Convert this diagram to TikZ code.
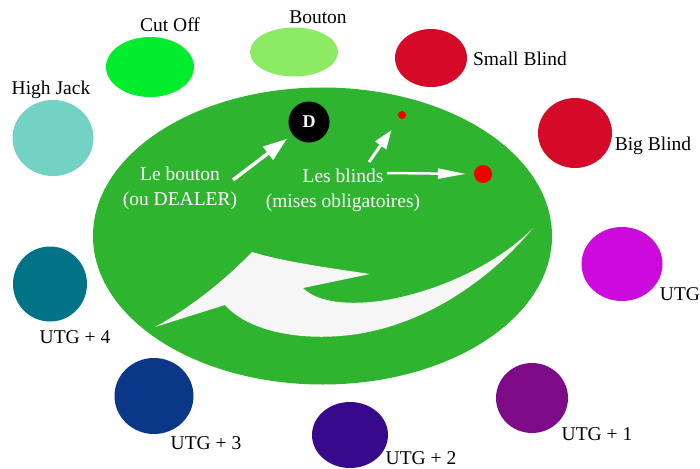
\documentclass[tikz,border=0pt]{standalone}
\usepackage{fontspec}
\setmainfont{Liberation Serif}
\usetikzlibrary{shapes.geometric,arrows.meta}
\definecolor{tablegreen}{RGB}{46,180,46}
\definecolor{swoosh}{RGB}{246,246,246}
\definecolor{cutoffc}{RGB}{0,236,45}
\definecolor{boutonc}{RGB}{140,234,100}
\definecolor{highjackc}{RGB}{115,210,195}
\definecolor{blindc}{RGB}{213,10,40}
\definecolor{utgc}{RGB}{205,10,220}
\definecolor{utgonec}{RGB}{125,10,135}
\definecolor{utgtwoc}{RGB}{55,10,140}
\definecolor{utgthreec}{RGB}{10,55,135}
\definecolor{utgfourc}{RGB}{0,115,135}
\definecolor{dotred}{RGB}{240,0,0}
\begin{document}
\begin{tikzpicture}[x=1pt,y=-1pt,
  seat/.style={ellipse,inner sep=0pt,draw=none},
  lbl/.style={font=\fontsize{19.5}{24}\selectfont,text=black,inner sep=0pt},
  wlbl/.style={font=\fontsize{19.5}{25}\selectfont,text=white,align=center,inner sep=0pt},
  warrow/.style={draw=white,line width=3pt}]
\useasboundingbox (0,0) rectangle (700,468);
\fill[white] (0,0) rectangle (700,468);

% table
\node[seat,fill=tablegreen,minimum width=459pt,minimum height=297pt] (table) at (322.5,236) {};

% swoosh
\fill[swoosh] (155,327) -- (225,305)
  .. controls (245,328) and (290,340) .. (340,336)
  .. controls (420,330) and (490,280) .. (533,228)
  .. controls (500,262) and (440,292) .. (380,301)
  .. controls (340,306) and (315,300) .. (303,288)
  -- (370,274)
  .. controls (330,268) and (285,262) .. (252,252)
  .. controls (225,280) and (190,308) .. (155,327) -- cycle;

% seats
\node[seat,fill=cutoffc,minimum width=88pt,minimum height=60pt] (cutoff) at (150,67) {};
\node[seat,fill=boutonc,minimum width=88pt,minimum height=49pt] (bouton) at (294,52) {};
\node[seat,fill=highjackc,minimum width=81pt,minimum height=76pt] (highjack) at (53,138) {};
\node[seat,fill=blindc,minimum width=72pt,minimum height=58pt] (small) at (431,58) {};
\node[seat,fill=blindc,minimum width=74pt,minimum height=70pt] (big) at (575,133) {};
\node[seat,fill=utgc,minimum width=81pt,minimum height=74pt] (utg) at (622,264) {};
\node[seat,fill=utgonec,minimum width=72pt,minimum height=70pt] (utg1) at (532,398) {};
\node[seat,fill=utgtwoc,minimum width=76pt,minimum height=66pt] (utg2) at (350,435) {};
\node[seat,fill=utgthreec,minimum width=79pt,minimum height=76pt] (utg3) at (154,396) {};
\node[seat,fill=utgfourc,minimum width=74pt,minimum height=75pt] (utg4) at (50,284) {};

% seat labels
\node[lbl] (lcutoff) at (170,25) {Cut Off};
\node[lbl] (lbouton) at (318,17) {Bouton};
\node[lbl] (lhighjack) at (51,90) {High Jack};
\node[lbl] (lsmall) at (520,59) {Small Blind};
\node[lbl] (lbig) at (653,146) {Big Blind};
\node[lbl] (lutg) at (680,294) {UTG};
\node[lbl] (lutg1) at (597,434) {UTG + 1};
\node[lbl] (lutg2) at (421,458) {UTG + 2};
\node[lbl] (lutg3) at (206,443) {UTG + 3};
\node[lbl] (lutg4) at (75,337) {UTG + 4};

% dealer chip and blinds
\node[circle,fill=black,minimum size=41pt,inner sep=0pt,text=white,
  font=\fontsize{18}{18}\selectfont\bfseries] (dealer) at (309,122) {D};
\node[circle,fill=dotred,minimum size=8pt,inner sep=0pt] (sbdot) at (402,115) {};
\node[circle,fill=dotred,minimum size=18pt,inner sep=0pt] (bbdot) at (483,174) {};

% texts inside the table
\node[wlbl] (tbouton) at (180,188) {Le bouton\\(ou DEALER)};
\node[wlbl] (tblinds) at (343,190) {Les blinds\\(mises obligatoires)};

% arrows
\coordinate (a1) at (233,180);
\coordinate (a2) at (369,162);
\coordinate (a3) at (387,173);
\draw[warrow,line width=3.5pt,-{Triangle[length=24pt,width=16pt]},shorten >=7pt] (a1) -- (dealer);
\draw[warrow,-{Triangle[length=19pt,width=13pt]},shorten >=14pt] (a2) -- (sbdot);
\draw[warrow,line width=2.5pt,-{Triangle[length=28pt,width=10pt]},shorten >=8pt] (a3) -- (bbdot.west);
\end{tikzpicture}
\end{document}
